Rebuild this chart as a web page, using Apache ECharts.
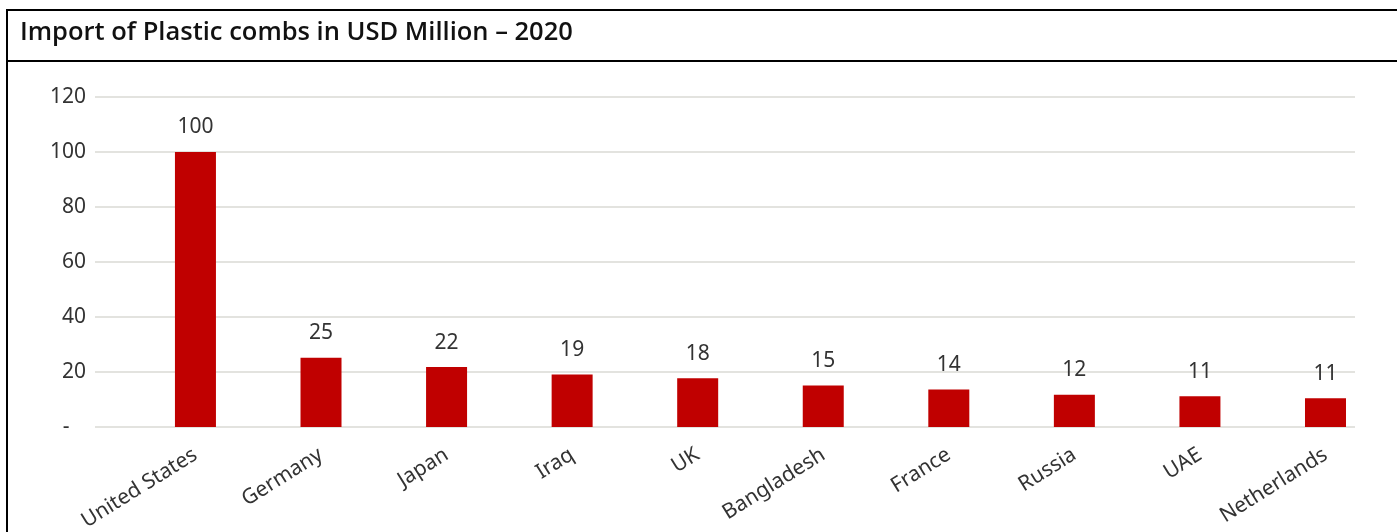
<!DOCTYPE html>
<html>
<head>
<meta charset="utf-8">
<script src="https://cdn.jsdelivr.net/npm/echarts@6/dist/echarts.min.js"></script>
<style>
html,body{margin:0;padding:0;background:#fff;}
#chart{width:1397px;height:532px;}
</style>
</head>
<body>
<div id="chart"></div>
<script>
const titleText = 'Import of Plastic combs in USD Million – 2020';
const categories = ['United States','Germany','Japan','Iraq','UK','Bangladesh','France','Russia','UAE','Netherlands'];
const values = [100, 25.2, 21.8, 19.1, 17.7, 15.1, 13.6, 11.7, 11.2, 10.5];
const yTicks = [0, 20, 40, 60, 80, 100, 120];

const chart = echarts.init(document.getElementById('chart'), null, {renderer:'canvas'});
const font = '"Noto Sans", sans-serif';
chart.setOption({
  animation: false,
  backgroundColor: '#ffffff',
  title: {
    text: titleText, left: 20, top: 18, padding: 0,
    textStyle: {fontFamily: '"Open Sans", sans-serif', fontWeight: 600, fontSize: 25.5, lineHeight: 30, color: '#111'}
  },
  graphic: [
    {type:'line', shape:{x1:7, y1:9, x2:7, y2:532}, style:{stroke:'#000', lineWidth:2}},
    {type:'line', shape:{x1:6, y1:10, x2:1397, y2:10}, style:{stroke:'#000', lineWidth:2}},
    {type:'line', shape:{x1:6, y1:61, x2:1397, y2:61}, style:{stroke:'#000', lineWidth:2}}
  ],
  grid: {left: 95, right: 42, top: 97, bottom: 105, containLabel: false, outerBoundsMode: 'none'},
  xAxis: {
    type: 'value', min: -0.8, max: 9.235,
    axisLine: {show:false}, axisTick: {show:false}, splitLine: {show:false},
    axisLabel: {
      customValues: categories.map((c,i)=>i),
      formatter: v => categories[Math.round(v)] || '',
      rotate: 32, margin: 26, fontSize: 21, color: '#333', fontFamily: font
    }
  },
  yAxis: {
    type: 'value', min: 0, max: 120, interval: 20,
    axisLine: {show:false}, axisTick: {show:false},
    splitLine: {lineStyle: {color: '#e3e3df', width: 2}},
    axisLabel: {
      margin: 9, fontSize: 21, color: '#333', fontFamily: font,
      formatter: v => v === 0 ? '-   ' : String(v)
    }
  },
  series: [{
    type: 'bar', barWidth: 41,
    data: values.map((v,i)=>[i, v]),
    itemStyle: {color: '#C00000'},
    label: {
      show: true, position: 'top', distance: 14, fontSize: 21, color: '#333', fontFamily: font,
      formatter: p => Math.round(p.value[1])
    }
  }]
});
</script>
</body>
</html>
